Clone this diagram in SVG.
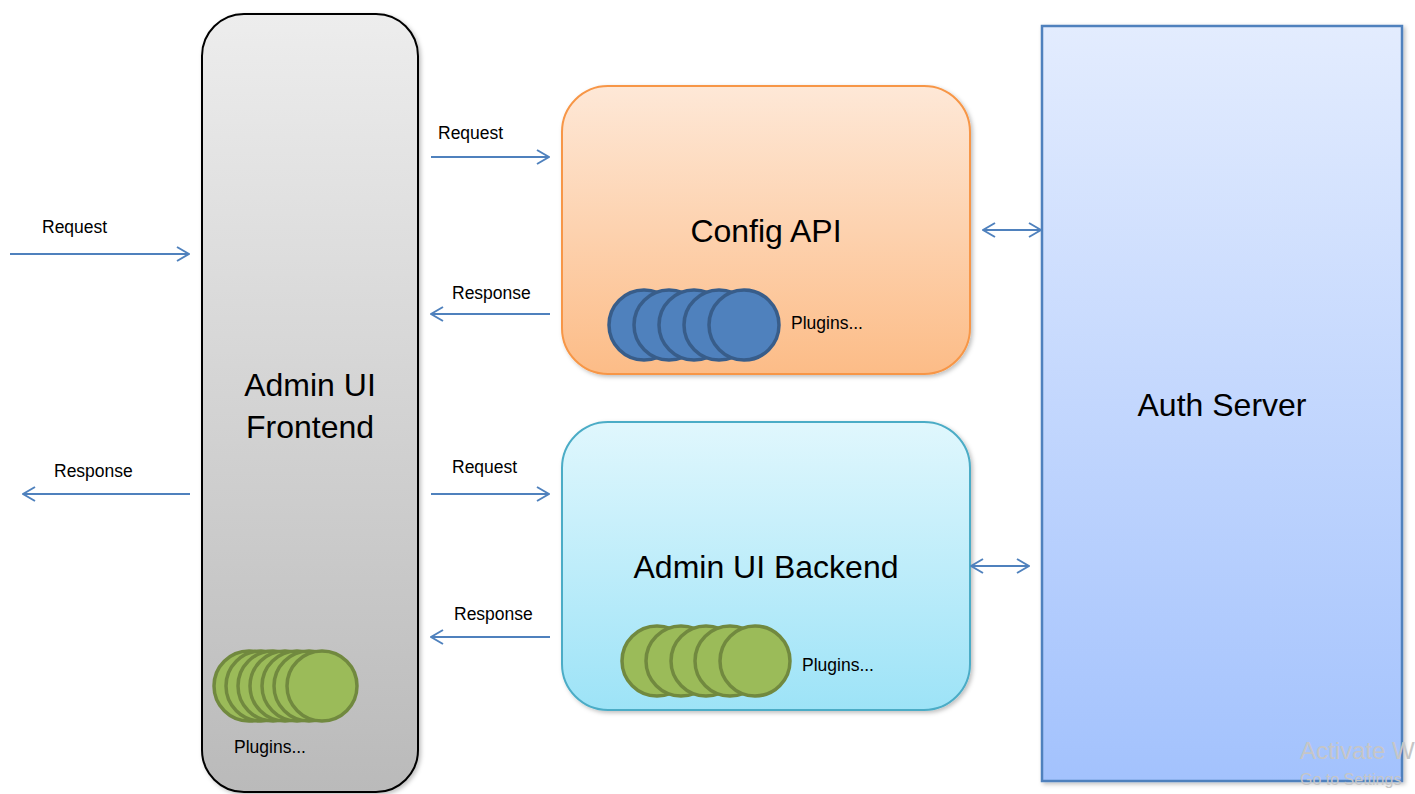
<svg xmlns="http://www.w3.org/2000/svg" width="1415" height="794" viewBox="0 0 1415 794">
<style>
text{font-family:"Liberation Sans",Arial,sans-serif;fill:#000}
.big{font-size:32px}
.sm{font-size:17.5px}
.wm{fill:#c6c6c6}
.conn{stroke:#4f81bd;stroke-width:2;fill:none}
.bc{fill:#4f81bd;stroke:#385d8a;stroke-width:3.5}
.gc{fill:#9bbb59;stroke:#71893f;stroke-width:3.5}
</style>
<defs>
<linearGradient id="gGray" x1="0" y1="0" x2="0" y2="1"><stop offset="0" stop-color="#ededed"/><stop offset="1" stop-color="#bababa"/></linearGradient>
<linearGradient id="gOrange" x1="0" y1="0" x2="0" y2="1"><stop offset="0" stop-color="#fee8d7"/><stop offset="1" stop-color="#fcbc87"/></linearGradient>
<linearGradient id="gCyan" x1="0" y1="0" x2="0" y2="1"><stop offset="0" stop-color="#e0f7fd"/><stop offset="1" stop-color="#9de3f7"/></linearGradient>
<linearGradient id="gBlue" x1="0" y1="0" x2="0" y2="1"><stop offset="0" stop-color="#e3ecfe"/><stop offset="1" stop-color="#a3c2fd"/></linearGradient>
<filter id="sh" x="-10%" y="-10%" width="120%" height="120%"><feDropShadow dx="2" dy="2" stdDeviation="2" flood-color="#000" flood-opacity="0.25"/></filter>
<marker id="ah" viewBox="0 0 14 16" refX="13" refY="8" markerWidth="14" markerHeight="16" markerUnits="userSpaceOnUse" orient="auto-start-reverse"><path d="M1,1 L13,8 L1,15" fill="none" stroke="#4f81bd" stroke-width="2"/></marker>
</defs>

<g id="frontend">
<rect x="202" y="14" width="216" height="778" rx="42" fill="url(#gGray)" stroke="#000" stroke-width="2" filter="url(#sh)"/>
<text class="big" x="310" y="396" text-anchor="middle">Admin UI</text>
<text class="big" x="310" y="438" text-anchor="middle">Frontend</text>
<circle class="gc" cx="249" cy="686" r="35"/>
<circle class="gc" cx="261" cy="686" r="35"/>
<circle class="gc" cx="273" cy="686" r="35"/>
<circle class="gc" cx="285" cy="686" r="35"/>
<circle class="gc" cx="297" cy="686" r="35"/>
<circle class="gc" cx="309" cy="686" r="35"/>
<circle class="gc" cx="322" cy="686" r="35"/>
<text class="sm" x="234" y="753">Plugins...</text>
</g>

<g id="config-api">
<rect x="562" y="86" width="408" height="288" rx="46" fill="url(#gOrange)" stroke="#f79646" stroke-width="2" filter="url(#sh)"/>
<text class="big" x="766" y="242" text-anchor="middle">Config API</text>
<circle class="bc" cx="644" cy="325" r="35"/>
<circle class="bc" cx="669" cy="325" r="35"/>
<circle class="bc" cx="694" cy="325" r="35"/>
<circle class="bc" cx="719" cy="325" r="35"/>
<circle class="bc" cx="744" cy="325" r="35"/>
<text class="sm" x="791" y="329">Plugins...</text>
</g>

<g id="admin-ui-backend">
<rect x="562" y="422" width="408" height="288" rx="46" fill="url(#gCyan)" stroke="#4bacc6" stroke-width="2" filter="url(#sh)"/>
<text class="big" x="766" y="578" text-anchor="middle">Admin UI Backend</text>
<circle class="gc" cx="657" cy="661" r="35"/>
<circle class="gc" cx="681" cy="661" r="35"/>
<circle class="gc" cx="706" cy="661" r="35"/>
<circle class="gc" cx="730" cy="661" r="35"/>
<circle class="gc" cx="755" cy="661" r="35"/>
<text class="sm" x="802" y="671">Plugins...</text>
</g>

<g id="auth-server">
<rect x="1042" y="26" width="360" height="755" fill="url(#gBlue)" stroke="#4f81bd" stroke-width="2.5" filter="url(#sh)"/>
<text class="big" x="1222" y="416" text-anchor="middle">Auth Server</text>
</g>

<g id="connectors">
<line class="conn" x1="10" y1="254" x2="189" y2="254" marker-end="url(#ah)"/>
<text class="sm" x="42" y="233">Request</text>
<line class="conn" x1="190" y1="494" x2="23" y2="494" marker-end="url(#ah)"/>
<text class="sm" x="54" y="477">Response</text>
<line class="conn" x1="431" y1="157" x2="549" y2="157" marker-end="url(#ah)"/>
<text class="sm" x="438" y="139">Request</text>
<line class="conn" x1="550" y1="314" x2="431" y2="314" marker-end="url(#ah)"/>
<text class="sm" x="452" y="299">Response</text>
<line class="conn" x1="431" y1="494" x2="549" y2="494" marker-end="url(#ah)"/>
<text class="sm" x="452" y="473">Request</text>
<line class="conn" x1="550" y1="637" x2="431" y2="637" marker-end="url(#ah)"/>
<text class="sm" x="454" y="620">Response</text>
<line class="conn" x1="983" y1="230" x2="1041" y2="230" marker-start="url(#ah)" marker-end="url(#ah)"/>
<line class="conn" x1="971" y1="566" x2="1029" y2="566" marker-start="url(#ah)" marker-end="url(#ah)"/>
</g>

<g id="watermark">
<text class="wm" x="1300" y="759" font-size="24">Activate W</text>
<text class="wm" x="1300" y="785" font-size="16">Go to Settings</text>
</g>
</svg>
